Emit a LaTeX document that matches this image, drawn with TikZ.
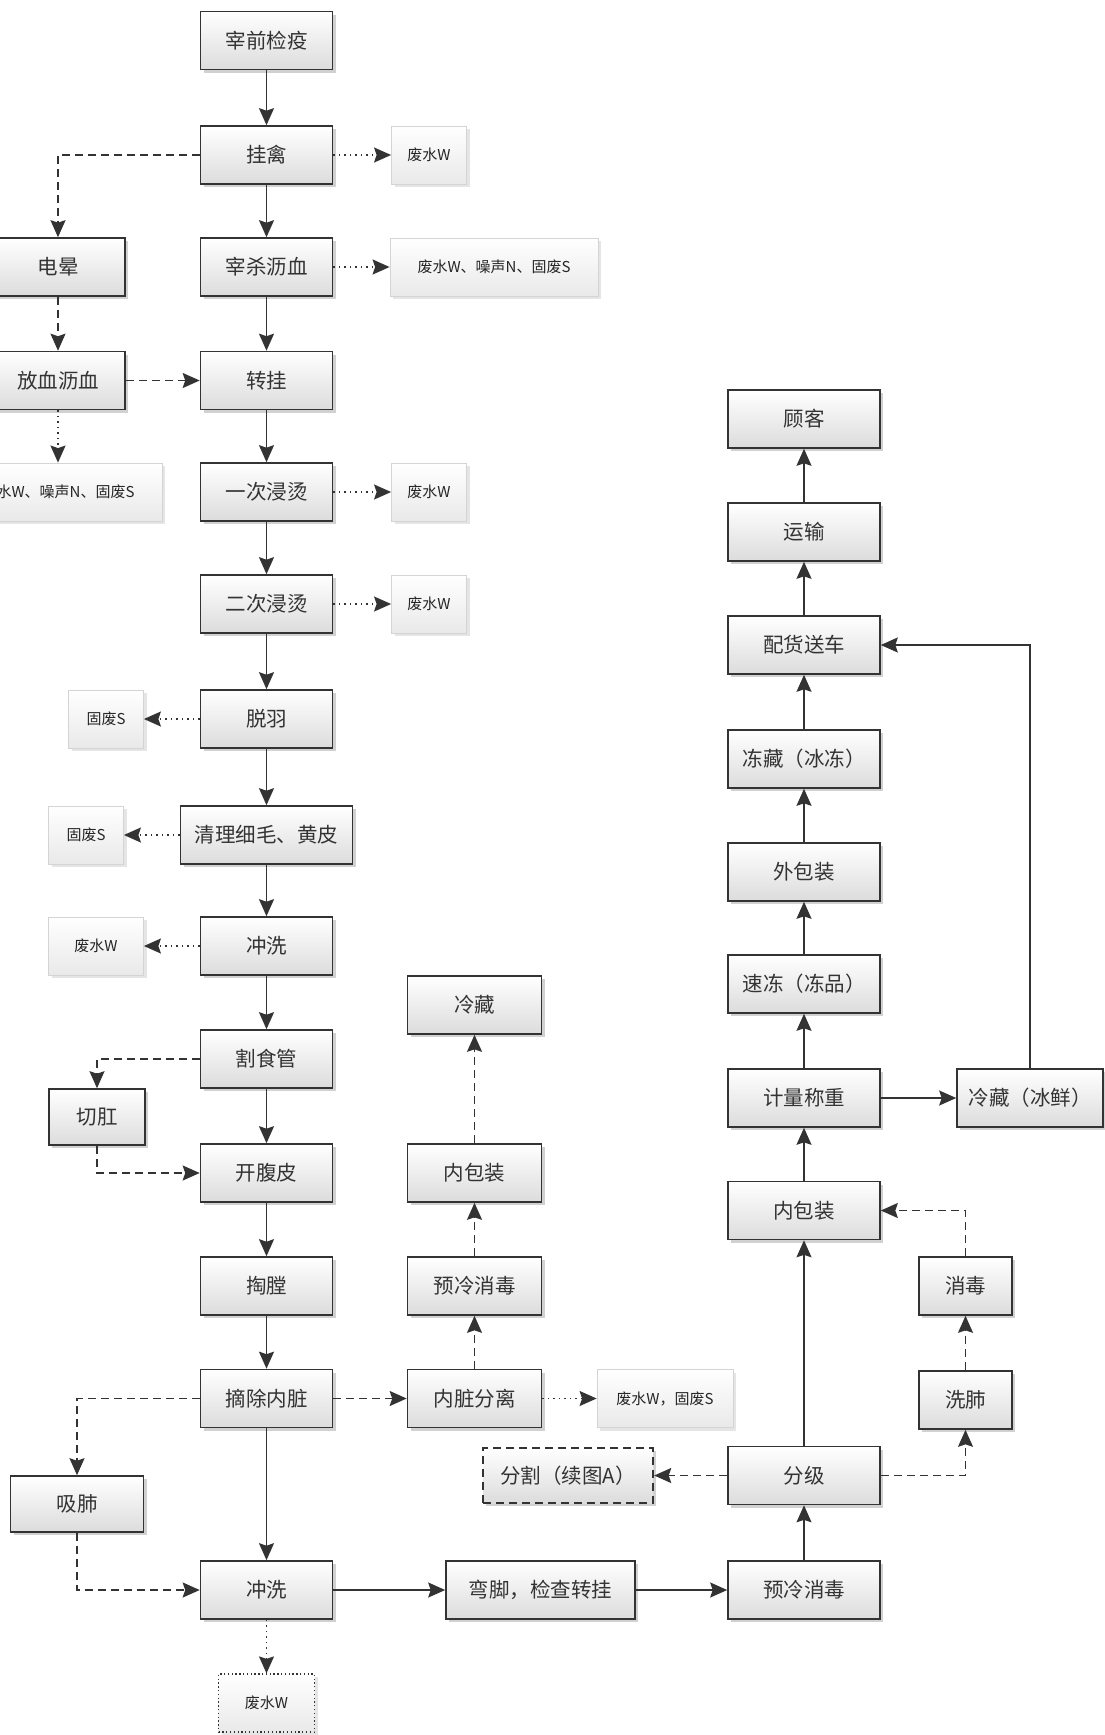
\documentclass[tikz,border=0pt]{standalone}
\usepackage{fontspec}
\setmainfont{Noto Sans CJK SC}
\usetikzlibrary{arrows.meta,shadows}
\definecolor{linec}{HTML}{333333}
\definecolor{txt}{HTML}{333333}
\definecolor{boxbot}{HTML}{DCDCDC}
\definecolor{wastebd}{HTML}{D4D4D4}
\definecolor{wastebot}{HTML}{E9E9E9}
\newcommand{\mainfs}{\fontsize{20.5}{24}\selectfont}
\newcommand{\smallfs}{\fontsize{15}{18}\selectfont}
\tikzset{
  proc/.style={draw=linec, line width=1.6pt, top color=white, bottom color=boxbot,
    minimum height=58pt, inner sep=0pt, font=\mainfs, text=txt,
    drop shadow={shadow xshift=3pt, shadow yshift=-3pt, fill=black, opacity=0.18}},
  pmain/.style={proc, minimum width=132pt},
  pmid/.style={proc, minimum width=134pt},
  pright/.style={proc, minimum width=152pt},
  waste/.style={draw=wastebd, line width=0.8pt, top color=white, bottom color=wastebot,
    minimum height=58pt, inner sep=0pt, font=\smallfs, text=black!85,
    drop shadow={shadow xshift=3pt, shadow yshift=-3pt, fill=black, opacity=0.10}},
  flow/.style={draw=linec, line width=1.7pt, -{Stealth[length=17pt,width=15pt,inset=2.5pt]}},
  dflow/.style={flow, dash pattern=on 8pt off 5pt},
  oflow/.style={flow, line width=1.5pt, dash pattern=on 1.5pt off 4pt},
}
\begin{document}
\begin{tikzpicture}[x=1pt,y=-1pt]
\useasboundingbox (0,0) rectangle (1105,1735);
\clip (0,0) rectangle (1105,1735);
\fill[white] (0,0) rectangle (1105,1735);

% main column
\node[pmain] (a1) at (266.5,40.5) {宰前检疫};
\node[pmain] (a2) at (266.5,155) {挂禽};
\node[pmain] (a3) at (266.5,267) {宰杀沥血};
\node[pmain] (a4) at (266.5,380.5) {转挂};
\node[pmain] (a5) at (266.5,492) {一次浸烫};
\node[pmain] (a6) at (266.5,604) {二次浸烫};
\node[pmain] (a7) at (266.5,719) {脱羽};
\node[proc, minimum width=172pt] (a8) at (266.5,835) {清理细毛、黄皮};
\node[pmain] (a9) at (266.5,946) {冲洗};
\node[pmain] (a10) at (266.5,1059) {割食管};
\node[pmain] (a11) at (266.5,1173) {开腹皮};
\node[pmain] (a12) at (266.5,1286) {掏膛};
\node[pmain] (a13) at (266.5,1398.5) {摘除内脏};
\node[pmain] (a14) at (266.5,1590) {冲洗};
\node[waste, draw=linec, line width=1.2pt, dash pattern=on 1.3pt off 2.5pt, minimum width=96pt, minimum height=58pt] (wb) at (266.5,1703) {废水W};

% left side
\node[proc, minimum width=134pt] (b1) at (58,267) {电晕};
\node[proc, minimum width=134pt] (b2) at (58,380.5) {放血沥血};
\node[waste, minimum width=208pt] (bw) at (58,492) {废水W、噪声N、固废S};
\node[waste, minimum width=75pt] (s1) at (106,719) {固废S};
\node[waste, minimum width=75pt] (s2) at (86,835) {固废S};
\node[waste, minimum width=95pt] (s3) at (96,946) {废水W};
\node[proc, minimum width=96pt, minimum height=56pt] (c1) at (97,1117) {切肛};
\node[proc, minimum width=133pt, minimum height=56pt] (c2) at (77,1504) {吸肺};

% right waste
\node[waste, minimum width=75pt] (r1) at (429,155) {废水W};
\node[waste, minimum width=208pt] (r2) at (494,267) {废水W、噪声N、固废S};
\node[waste, minimum width=75pt] (r3) at (429,492) {废水W};
\node[waste, minimum width=75pt] (r4) at (429,604) {废水W};

% middle column
\node[pmid] (m1) at (474.5,1005) {冷藏};
\node[pmid] (m2) at (474.5,1173) {内包装};
\node[pmid] (m3) at (474.5,1286) {预冷消毒};
\node[pmid] (m4) at (474.5,1398.5) {内脏分离};
\node[waste, minimum width=136pt] (mw) at (665,1398.5) {废水W，固废S};
\node[proc, line width=2.4pt, dash pattern=on 8pt off 5pt, minimum width=170pt, minimum height=55pt, drop shadow={opacity=0}] (fg) at (568,1475.5) {分割（续图A）};
\node[proc, minimum width=189pt] (wj) at (540.5,1590) {弯脚，检查转挂};

% right column
\node[pright] (k1) at (804,419) {顾客};
\node[pright] (k2) at (804,532) {运输};
\node[pright] (k3) at (804,645) {配货送车};
\node[pright] (k4) at (804,759) {冻藏（冰冻）};
\node[pright] (k5) at (804,872) {外包装};
\node[pright] (k6) at (804,984) {速冻（冻品）};
\node[pright] (k7) at (804,1098) {计量称重};
\node[pright] (k8) at (804,1210.5) {内包装};
\node[pright] (k9) at (804,1475.5) {分级};
\node[pright] (k10) at (804,1590) {预冷消毒};
\node[proc, minimum width=146pt] (lx) at (1030,1098) {冷藏（冰鲜）};
\node[proc, minimum width=93pt] (xd) at (965.5,1286) {消毒};
\node[proc, minimum width=93pt] (xf) at (965.5,1400) {洗肺};

% main flow
\draw[flow] (a1) -- (a2);
\draw[flow] (a2) -- (a3);
\draw[flow] (a3) -- (a4);
\draw[flow] (a4) -- (a5);
\draw[flow] (a5) -- (a6);
\draw[flow] (a6) -- (a7);
\draw[flow] (a7) -- (a8);
\draw[flow] (a8) -- (a9);
\draw[flow] (a9) -- (a10);
\draw[flow] (a10) -- (a11);
\draw[flow] (a11) -- (a12);
\draw[flow] (a12) -- (a13);
\draw[flow] (a13) -- (a14);
\draw[oflow] (a14) -- (wb);

% waste outputs
\draw[oflow] (a2) -- (r1);
\draw[oflow] (a3) -- (r2);
\draw[oflow] (a5) -- (r3);
\draw[oflow] (a6) -- (r4);
\draw[oflow] (a7) -- (s1);
\draw[oflow] (a8) -- (s2);
\draw[oflow] (a9) -- (s3);
\draw[oflow] (b2) -- (bw);
\draw[oflow] (m4) -- (mw);

% left branches
\draw[dflow] (a2.west) -| (b1.north);
\draw[dflow] (b1) -- (b2);
\draw[dflow] (b2) -- (a4);
\draw[dflow] (a10.west) -| (c1.north);
\draw[dflow] (c1.south) |- (a11.west);
\draw[dflow] (a13.west) -| (c2.north);
\draw[dflow] (c2.south) |- (a14.west);

% middle branch
\draw[dflow] (a13) -- (m4);
\draw[dflow] (m4) -- (m3);
\draw[dflow] (m3) -- (m2);
\draw[dflow] (m2) -- (m1);

% bottom row
\draw[flow] (a14) -- (wj);
\draw[flow] (wj) -- (k10);

% right column
\draw[flow] (k10) -- (k9);
\draw[flow] (k9) -- (k8);
\draw[flow] (k8) -- (k7);
\draw[flow] (k7) -- (k6);
\draw[flow] (k6) -- (k5);
\draw[flow] (k5) -- (k4);
\draw[flow] (k4) -- (k3);
\draw[flow] (k3) -- (k2);
\draw[flow] (k2) -- (k1);
\draw[flow] (k7) -- (lx);
\draw[flow] (lx.north) |- (k3.east);
\draw[dflow] (k9) -- (fg);
\draw[dflow] (k9.east) -| (xf.south);
\draw[dflow] (xf) -- (xd);
\draw[dflow] (xd.north) |- (k8.east);
\end{tikzpicture}
\end{document}
